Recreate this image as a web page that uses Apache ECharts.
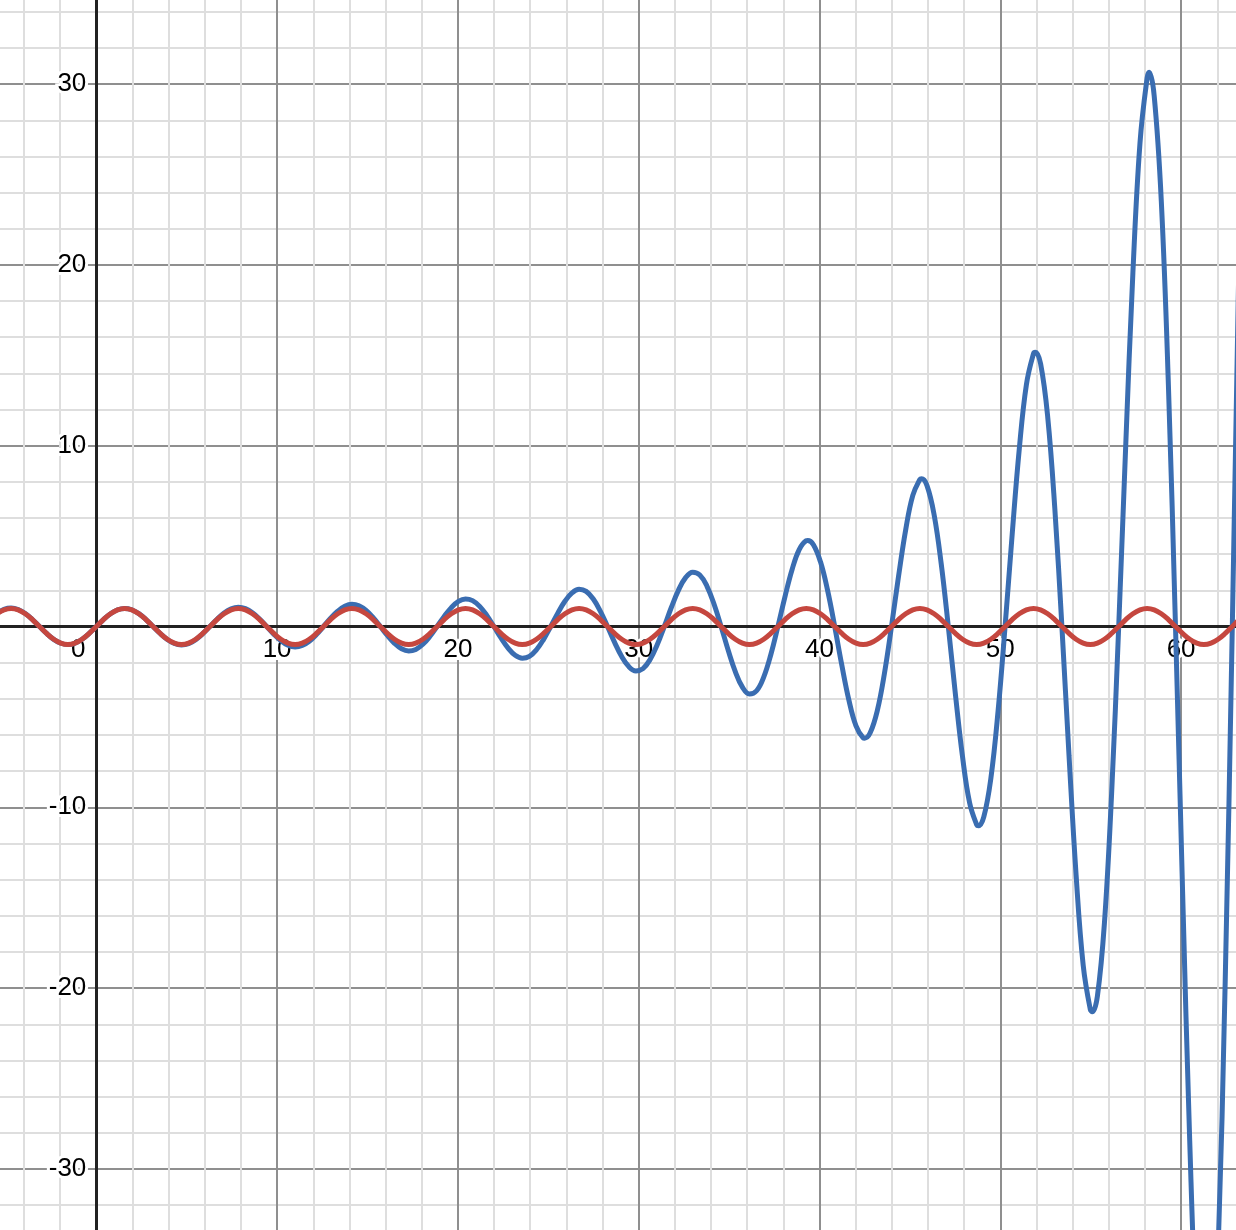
<!DOCTYPE html>
<html>
<head>
<meta charset="utf-8">
<script src="https://cdn.jsdelivr.net/npm/echarts@6/dist/echarts.min.js"></script>
<style>
html,body{margin:0;padding:0;background:#fff;}
#chart{width:1236px;height:1230px;}
</style>
</head>
<body>
<div id="chart"></div>
<script>
const xs = [-5.498,-5.105,-4.712,-4.320,-3.927,-3.534,-3.142,-2.749,-2.356,-1.963,-1.571,-1.178,-0.785,-0.393,
0,0.393,0.785,1.178,1.571,1.963,2.356,2.749,3.142,3.534,3.927,4.320,4.712,5.105,5.498,5.890,
6.283,6.676,7.069,7.461,7.854,8.247,8.639,9.032,9.425,9.817,10.210,10.603,10.996,11.388,11.781,12.174,
12.566,12.959,13.352,13.744,14.137,14.530,14.923,15.315,15.708,16.101,16.493,16.886,17.279,17.671,18.064,18.457,
18.850,19.242,19.635,20.028,20.420,20.813,21.206,21.598,21.991,22.384,22.777,23.169,23.562,23.955,24.347,24.740,
25.133,25.525,25.918,26.311,26.704,27.096,27.489,27.882,28.274,28.667,29.060,29.452,29.845,30.238,30.631,31.023,
31.416,31.809,32.201,32.594,32.987,33.379,33.772,34.165,34.558,34.950,35.343,35.736,36.128,36.521,36.914,37.306,
37.699,38.092,38.485,38.877,39.270,39.663,40.055,40.448,40.841,41.233,41.626,42.019,42.412,42.804,43.197,43.590,
43.982,44.375,44.768,45.160,45.553,45.946,46.338,46.731,47.124,47.517,47.909,48.302,48.695,49.087,49.480,49.873,
50.265,50.658,51.051,51.444,51.836,52.229,52.622,53.014,53.407,53.800,54.192,54.585,54.978,55.371,55.763,56.156,
56.549,56.941,57.334,57.727,58.119,58.512,58.905,59.298,59.690,60.083,60.476,60.868,61.261,61.654,62.046,62.439,
62.832,63.225,63.617];

// blue (growing) curve values
const blueY = [0.729,0.949,1.023,0.942,0.718,0.388,0,-0.386,-0.711,-0.928,-1.002,-0.925,-0.707,-0.383,
0,0.383,0.707,0.925,1.002,0.928,0.711,0.386,0,-0.388,-0.718,-0.942,-1.023,-0.949,-0.729,-0.396,
0,0.400,0.744,0.977,1.064,0.990,0.762,0.416,0,-0.422,-0.786,-1.035,-1.130,-1.053,-0.814,-0.445,
0,0.454,0.847,1.118,1.224,1.144,0.885,0.485,0,-0.497,-0.931,-1.232,-1.352,-1.267,-0.983,-0.540,
0,0.556,1.044,1.385,1.524,1.431,1.114,0.613,0,-0.635,-1.194,-1.589,-1.752,-1.650,-1.287,-0.710,
0,0.739,1.394,1.859,2.055,1.940,1.517,0.839,0,-0.878,-1.659,-2.219,-2.459,-2.327,-1.824,-1.012,
0,1.063,2.015,2.702,3.002,2.847,2.238,1.244,0,-1.314,-2.497,-3.356,-3.738,-3.554,-2.801,-1.561,
0,1.657,3.156,4.253,4.748,4.526,3.575,1.998,0,-2.132,-4.070,-5.497,-6.153,-5.880,-4.656,-2.608,
0,2.797,5.354,7.250,8.134,7.793,6.186,3.474,0,-3.744,-7.184,-9.752,-10.970,-10.536,-8.385,-4.721,
0,5.112,9.836,13.384,15.092,14.531,11.594,6.543,0,-7.122,-13.734,-18.736,-21.181,-20.444,-16.353,-9.252,
0,10.120,19.569,26.759,30.330,29.344,23.530,13.346,0,-14.672,-28.43,-38.99,-44.29,-42.97,-34.54,-19.64,
0,21.70,42.16];

// blue curve turning points (peaks / troughs)
const blueTurnX = [39.349, 42.497, 45.645, 48.793, 51.940, 55.089, 58.236, 61.384];
const blueTurnY = [4.762, -6.175, 8.169, -11.023, 15.174, -21.312, 30.65, -44.63];

// red (constant amplitude) curve values
const redY = [0.707,0.924,1,0.924,0.707,0.383,0,-0.383,-0.707,-0.924,-1,-0.924,-0.707,-0.383,
0,0.383,0.707,0.924,1,0.924,0.707,0.383,0,-0.383,-0.707,-0.924,-1,-0.924,-0.707,-0.383,
0,0.383,0.707,0.924,1,0.924,0.707,0.383,0,-0.383,-0.707,-0.924,-1,-0.924,-0.707,-0.383,
0,0.383,0.707,0.924,1,0.924,0.707,0.383,0,-0.383,-0.707,-0.924,-1,-0.924,-0.707,-0.383,
0,0.383,0.707,0.924,1,0.924,0.707,0.383,0,-0.383,-0.707,-0.924,-1,-0.924,-0.707,-0.383,
0,0.383,0.707,0.924,1,0.924,0.707,0.383,0,-0.383,-0.707,-0.924,-1,-0.924,-0.707,-0.383,
0,0.383,0.707,0.924,1,0.924,0.707,0.383,0,-0.383,-0.707,-0.924,-1,-0.924,-0.707,-0.383,
0,0.383,0.707,0.924,1,0.924,0.707,0.383,0,-0.383,-0.707,-0.924,-1,-0.924,-0.707,-0.383,
0,0.383,0.707,0.924,1,0.924,0.707,0.383,0,-0.383,-0.707,-0.924,-1,-0.924,-0.707,-0.383,
0,0.383,0.707,0.924,1,0.924,0.707,0.383,0,-0.383,-0.707,-0.924,-1,-0.924,-0.707,-0.383,
0,0.383,0.707,0.924,1,0.924,0.707,0.383,0,-0.383,-0.707,-0.924,-1,-0.924,-0.707,-0.383,
0,0.383,0.707];

// axis ranges / tick settings
const xRange = [-10, 70];
const yRange = [-40, 40];
const majorStep = 10;
const minorSplits = 5;

const blueData = xs.map((x, i) => [x, blueY[i]])
  .concat(blueTurnX.map((x, i) => [x, blueTurnY[i]]))
  .sort((a, b) => a[0] - b[0]);
const redData = xs.map((x, i) => [x, redY[i]]);

const FONT = '"Liberation Sans", Arial, Helvetica, sans-serif';
// grid rect chosen so that x:-10..70 and y:-40..40 extend beyond the canvas
const gridRect = {left: -84.5, right: -125.9, top: -96.7, bottom: -119.7, outerBoundsMode: 'none', containLabel: false};
// distance of the zero lines from the grid's bottom / left edges
const xAxisOffset = -723.2;
const yAxisOffset = -180.8;

const chart = echarts.init(document.getElementById('chart'), null, {renderer: 'canvas'});

const gridAxisCommon = {
  type: 'value', interval: majorStep,
  axisLine: {show: false}, axisTick: {show: false}, axisLabel: {show: false},
  splitLine: {show: true, lineStyle: {color: '#8f8f8f', width: 2}},
  minorTick: {show: false, splitNumber: minorSplits},
  minorSplitLine: {show: true, lineStyle: {color: '#dedede', width: 2}},
  z: 0
};

const labelStyle = {
  color: '#000', fontSize: 26, fontFamily: FONT,
  textBorderColor: '#fff', textBorderWidth: 6
};

chart.setOption({
  animation: false,
  backgroundColor: '#fff',
  grid: [Object.assign({}, gridRect), Object.assign({}, gridRect)],
  xAxis: [
    Object.assign({}, gridAxisCommon, {gridIndex: 0, min: xRange[0], max: xRange[1]}),
    {
      type: 'value', gridIndex: 1, min: xRange[0], max: xRange[1], interval: majorStep, z: 1,
      position: 'bottom', offset: xAxisOffset,
      splitLine: {show: false},
      axisTick: {show: false},
      axisLine: {show: true, onZero: false, lineStyle: {color: '#222', width: 3}},
      axisLabel: Object.assign({}, labelStyle, {
        margin: 10,
        formatter: v => v === 0 ? '{z|0}' : String(v),
        rich: {z: Object.assign({}, labelStyle, {padding: [0, 36, 0, 0]})}
      })
    }
  ],
  yAxis: [
    Object.assign({}, gridAxisCommon, {gridIndex: 0, min: yRange[0], max: yRange[1]}),
    {
      type: 'value', gridIndex: 1, min: yRange[0], max: yRange[1], interval: majorStep, z: 1,
      position: 'left', offset: yAxisOffset,
      splitLine: {show: false},
      axisTick: {show: false},
      axisLine: {show: true, onZero: false, lineStyle: {color: '#222', width: 3}},
      axisLabel: Object.assign({}, labelStyle, {
        margin: 10,
        formatter: v => v === 0 ? '' : String(v)
      })
    }
  ],
  series: [
    {
      type: 'line', xAxisIndex: 1, yAxisIndex: 1, data: blueData,
      smooth: 0.4, showSymbol: false, symbol: 'none', z: 2,
      lineStyle: {color: '#3a6db1', width: 5}, clip: true
    },
    {
      type: 'line', xAxisIndex: 1, yAxisIndex: 1, data: redData,
      smooth: 0.4, showSymbol: false, symbol: 'none', z: 3,
      lineStyle: {color: '#c5473f', width: 5}, clip: true
    }
  ]
});
</script>
</body>
</html>
